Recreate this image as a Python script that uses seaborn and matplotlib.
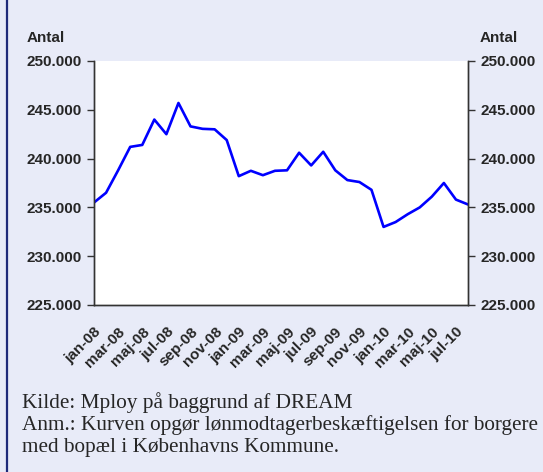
import numpy as np
import pandas as pd
import matplotlib.pyplot as plt
import seaborn as sns

# Lønmodtagerbeskæftigelse, månedlig jan-08 .. aug-10
maaneder = ['jan-08', 'feb-08', 'mar-08', 'apr-08', 'maj-08', 'jun-08', 'jul-08', 'aug-08',
            'sep-08', 'okt-08', 'nov-08', 'dec-08', 'jan-09', 'feb-09', 'mar-09', 'apr-09',
            'maj-09', 'jun-09', 'jul-09', 'aug-09', 'sep-09', 'okt-09', 'nov-09', 'dec-09',
            'jan-10', 'feb-10', 'mar-10', 'apr-10', 'maj-10', 'jun-10', 'jul-10', 'aug-10']
antal = [235500, 236500, 238800, 241200, 241400, 244000, 242500, 245700,
         243300, 243050, 243000, 241900, 238200, 238750, 238300, 238750,
         238800, 240600, 239300, 240700, 238800, 237800, 237600, 236800,
         233000, 233500, 234300, 235000, 236100, 237500, 235800, 235300]
y_ticks = [225000, 230000, 235000, 240000, 245000, 250000]

bg = '#E8EBF8'
df = pd.DataFrame({'idx': np.arange(len(maaneder)), 'maaned': maaneder, 'antal': antal})

sns.set_style('white')
plt.rcParams['font.family'] = ['Liberation Sans', 'DejaVu Sans']

fig = plt.figure(figsize=(5.43, 4.72), dpi=100, facecolor=bg)
ax = fig.add_axes([94 / 543, 167 / 472, 374 / 543, 244 / 472])
ax.set_facecolor('white')

sns.lineplot(data=df, x='idx', y='antal', ax=ax, color='#0000FF', linewidth=1.9)

ax.set_xlim(0, len(maaneder) - 1)
ax.set_ylim(225000, 250000)
ax.set_xlabel('')
ax.set_ylabel('')

def fmt(v):
    return f'{v:,}'.replace(',', '.')

ax.set_yticks(y_ticks)
ax.set_yticklabels([fmt(v) for v in y_ticks], fontsize=11, fontweight='bold')
ax.set_xticks(df['idx'][::2])
ax.set_xticklabels(df['maaned'][::2], rotation=45, ha='right', rotation_mode='anchor',
                   fontsize=11, fontweight='bold')
ax.tick_params(axis='both', direction='out', length=5, width=1, color='#333333', pad=4)
ax.tick_params(axis='x', pad=9)

ax2 = ax.twinx()
ax2.set_ylim(225000, 250000)
ax2.set_yticks(y_ticks)
ax2.set_yticklabels([fmt(v) for v in y_ticks], fontsize=11, fontweight='bold')
ax2.tick_params(axis='y', direction='out', length=5, width=1, color='#333333', pad=4)

for a in (ax, ax2):
    a.spines['top'].set_visible(False)
    for s in ('left', 'right', 'bottom'):
        a.spines[s].set_color('#333333')
        a.spines[s].set_linewidth(1)

fig.text(27 / 543, 1 - 38 / 472, 'Antal', fontsize=11, fontweight='bold', ha='left', va='center')
fig.text(518 / 543, 1 - 38 / 472, 'Antal', fontsize=11, fontweight='bold', ha='right', va='center')

noter = ['Kilde: Mploy på baggrund af DREAM',
         'Anm.: Kurven opgør lønmodtagerbeskæftigelsen for borgere',
         'med bopæl i Københavns Kommune.']
for i, linje in enumerate(noter):
    fig.text(22 / 543, 1 - (408 + 22 * i) / 472, linje, fontsize=15.3,
             family=['Liberation Serif', 'DejaVu Serif'], ha='left', va='baseline')

fig.add_artist(plt.Line2D([6.5 / 543, 6.5 / 543], [0, 1], color='#1F2A7A', linewidth=1.6))

fig.savefig('out.png', dpi=100, facecolor=bg)
